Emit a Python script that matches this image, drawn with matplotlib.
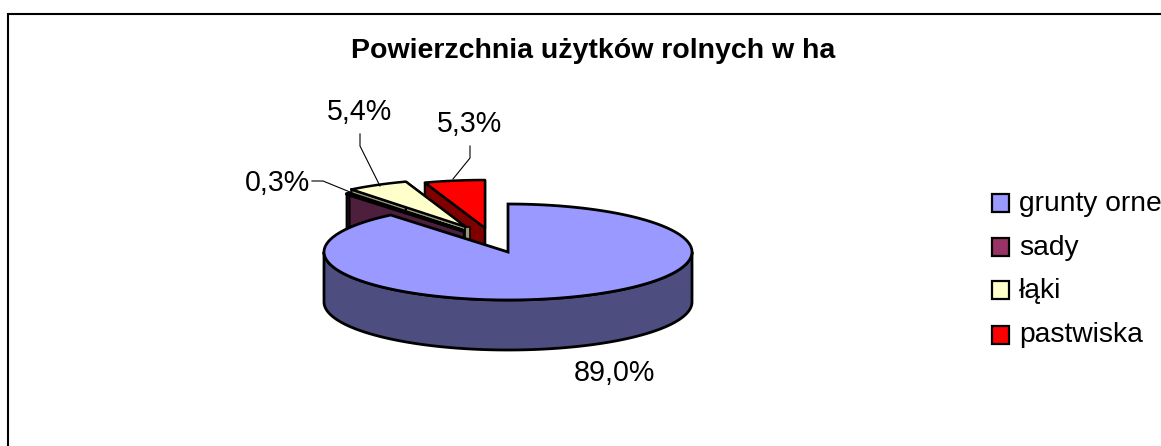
import numpy as np
import matplotlib
matplotlib.use('Agg')
import matplotlib.pyplot as plt
from matplotlib.patches import Rectangle

plt.rcParams['font.family'] = ['Liberation Sans', 'DejaVu Sans']

title = 'Powierzchnia użytków rolnych w ha'
categories = ['grunty orne', 'sady', 'łąki', 'pastwiska']
values = [89.0, 0.3, 5.4, 5.3]
value_labels = ['89,0%', '0,3%', '5,4%', '5,3%']

top_colors = ['#9999ff', '#000000', '#ffffcc', '#ff0000']
side_colors = ['#4d4d80', '#4d1f3d', '#99997a', '#800000']
legend_colors = ['#9999ff', '#993366', '#ffffcc', '#ff0000']

# centre of each slice in image pixels, the small ones are pulled out
centers = [(508, 252), (464, 231), (466, 227), (485, 228)]
rx, ry, depth = 184, 48, 50

fig = plt.figure(figsize=(11.61, 4.46), dpi=100)
ax = fig.add_axes([0, 0, 1, 1])
ax.set_xlim(0, 1161)
ax.set_ylim(446, 0)
ax.axis('off')


def rim(c, a0, a1):
    # angles clockwise from 12 o'clock, in degrees
    t = np.radians(np.linspace(a0, a1, 200))
    return c[0] + rx * np.sin(t), c[1] - ry * np.cos(t)


# frame, only top and left are inside the picture
ax.plot([8, 8, 1161], [446, 14, 14], color='black', lw=1.5, solid_joinstyle='miter')

ax.text(593, 51, title, ha='center', va='center', fontsize=20.5, fontweight='bold')

ends = np.cumsum(values) / sum(values) * 360
starts = np.r_[0, ends[:-1]]

# back slices first: red, yellow, sady, then the big one
for i in [3, 2, 1]:
    c = centers[i]
    x, y = rim(c, starts[i], ends[i])
    z = 2 + (3 - i)
    # cut faces going down
    for xe, ye in [(x[0], y[0]), (x[-1], y[-1])]:
        ax.fill([c[0], xe, xe, c[0]], [c[1], ye, ye + depth, c[1] + depth],
                facecolor=side_colors[i], edgecolor='black', lw=1.6, zorder=z)
    if i == 2:
        # little wall under the tip of the yellow slice
        ax.add_patch(Rectangle((c[0] - 1, c[1]), 5, depth, facecolor=side_colors[i],
                               edgecolor='black', lw=1.2, zorder=z))
    ax.fill(np.r_[c[0], x], np.r_[c[1], y], facecolor=top_colors[i], edgecolor='black',
            lw=2.6 if i == 1 else 1.8, joinstyle='round', zorder=z)

c = centers[0]
x, y = rim(c, starts[0], ends[0])
# outer wall, only the front half of the ellipse
xs, ys = rim(c, 90, 270)
ax.fill(np.r_[xs, xs[::-1]], np.r_[ys, ys[::-1] + depth], facecolor=side_colors[0],
        edgecolor='black', lw=2, zorder=6)
ax.fill(np.r_[c[0], x], np.r_[c[1], y], facecolor=top_colors[0], edgecolor='black',
        lw=2, joinstyle='miter', zorder=7)

# value labels with leader lines
ax.text(614, 373, value_labels[0], ha='center', va='center', fontsize=20.6)
ax.text(278, 183, value_labels[1], ha='center', va='center', fontsize=20.6)
ax.text(360, 112, value_labels[2], ha='center', va='center', fontsize=20.6)
ax.text(470, 124, value_labels[3], ha='center', va='center', fontsize=20.6)
ax.plot([312, 323, 350], [181, 181, 192], color='black', lw=0.8, zorder=8)
ax.plot([360, 360, 380], [134, 146, 186], color='black', lw=0.8, zorder=8)
ax.plot([470, 470, 453], [146, 158, 179], color='black', lw=0.8, zorder=8)

# legend, runs off the right side like the original
for name, col, ly in zip(categories, legend_colors, [203, 247, 290, 334.5]):
    ax.add_patch(Rectangle((991.5, ly - 9), 17, 18, facecolor=col, edgecolor='black', lw=1.6))
    ax.text(1019, ly + 1, name, va='center', ha='left', fontsize=20.3, clip_on=True)

fig.savefig('out.png', dpi=100)
